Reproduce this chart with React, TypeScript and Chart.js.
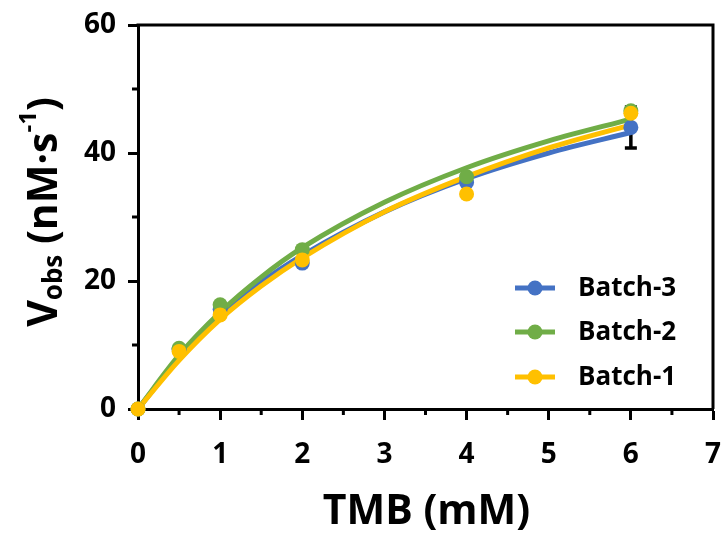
import React, { useEffect, useRef } from "react";
import { Chart, registerables } from "chart.js";

Chart.register(...registerables);

// ---- data ----
const seriesNames = ["Batch-3", "Batch-2", "Batch-1"];
const seriesColors = ["#4472C4", "#70AD47", "#FFC000"];
const pointX = [0, 0.5, 1, 2, 4, 6];
const batch3Points = [0, 9.3, 15.6, 22.8, 35.4, 44.0];
const batch2Points = [0, 9.5, 16.3, 24.9, 36.3, 46.6];
const batch1Points = [0, 9.0, 14.7, 23.3, 33.6, 46.2];
const batch3Err = [0, 0, 0, 0, 0, 3.2];
const curveX = [0, 0.5, 1, 1.5, 2, 3, 4, 5, 6];
const batch3Curve = [0, 8.0, 14.6, 19.8, 24.0, 30.8, 36.0, 40.0, 43.2];
const batch2Curve = [0, 8.4, 15.1, 20.6, 25.2, 32.3, 37.7, 41.9, 45.3];
const batch1Curve = [0, 7.6, 14.0, 19.2, 23.6, 30.8, 36.3, 40.8, 44.4];
const xMinorTicks = [0.5, 1.5, 2.5, 3.5, 4.5, 5.5, 6.5];
const yMinorTicks = [10, 30, 50];

const FONT = "'Open Sans', 'DejaVu Sans', sans-serif";

const toXY = (xs: number[], ys: number[]) => xs.map((x, i) => ({ x, y: ys[i] }));

const overlayPlugin = {
  id: "overlay",
  beforeDatasetsDraw(chart: any) {
    const ctx = chart.ctx;
    const xs = chart.scales.x;
    const ys = chart.scales.y;
    ctx.save();
    ctx.strokeStyle = "#000";
    ctx.lineWidth = 3.5;
    pointX.forEach((x, i) => {
      const e = batch3Err[i];
      if (!e) return;
      const px = xs.getPixelForValue(x);
      const lo = ys.getPixelForValue(batch3Points[i] - e);
      const hi = ys.getPixelForValue(batch3Points[i] + e);
      ctx.beginPath();
      ctx.moveTo(px, lo);
      ctx.lineTo(px, hi);
      ctx.moveTo(px - 6, lo);
      ctx.lineTo(px + 6, lo);
      ctx.moveTo(px - 6, hi);
      ctx.lineTo(px + 6, hi);
      ctx.stroke();
    });
    ctx.restore();
  },
  afterDraw(chart: any) {
    const ctx = chart.ctx;
    const xs = chart.scales.x;
    const ys = chart.scales.y;
    const a = chart.chartArea;
    ctx.save();
    ctx.strokeStyle = "#000";
    ctx.lineWidth = 3;
    ctx.beginPath();
    ctx.moveTo(a.left - 1.5, a.top);
    ctx.lineTo(a.right, a.top);
    ctx.lineTo(a.right, a.bottom);
    ctx.stroke();
    ctx.beginPath();
    xMinorTicks.forEach((v) => {
      const px = xs.getPixelForValue(v);
      ctx.moveTo(px, a.bottom);
      ctx.lineTo(px, a.bottom + 6);
    });
    yMinorTicks.forEach((v) => {
      const py = ys.getPixelForValue(v);
      ctx.moveTo(a.left, py);
      ctx.lineTo(a.left - 6, py);
    });
    ctx.stroke();

    // x title
    ctx.fillStyle = "#000";
    ctx.font = `bold 41px ${FONT}`;
    ctx.textAlign = "center";
    ctx.textBaseline = "alphabetic";
    ctx.fillText("TMB (mM)", (a.left + a.right) / 2 + 1, 524);

    // y title
    const parts = [
      { t: "V", f: 41, dy: 0 },
      { t: "obs", f: 26, dy: 5 },
      { t: " (nM\u00B7s", f: 41, dy: 0 },
      { t: "-1", f: 24, dy: -21 },
      { t: ")", f: 41, dy: 0 },
    ];
    let total = 0;
    const widths = parts.map((p) => {
      ctx.font = `bold ${p.f}px ${FONT}`;
      const w = ctx.measureText(p.t).width;
      total += w;
      return w;
    });
    const cy = 212;
    ctx.translate(57, cy + total / 2);
    ctx.rotate(-Math.PI / 2);
    ctx.textAlign = "left";
    let cx = 0;
    parts.forEach((p, i) => {
      ctx.font = `bold ${p.f}px ${FONT}`;
      ctx.fillText(p.t, cx, p.dy);
      cx += widths[i];
    });
    ctx.restore();

    // legend
    ctx.save();
    const rows = [288, 332, 377];
    seriesNames.forEach((name, i) => {
      const y = rows[i];
      ctx.strokeStyle = seriesColors[i];
      ctx.lineWidth = 5;
      ctx.beginPath();
      ctx.moveTo(515, y);
      ctx.lineTo(555, y);
      ctx.stroke();
      ctx.fillStyle = seriesColors[i];
      ctx.beginPath();
      ctx.arc(535, y, 7.5, 0, Math.PI * 2);
      ctx.fill();
      ctx.fillStyle = "#000";
      ctx.font = `bold 26px ${FONT}`;
      ctx.textAlign = "left";
      ctx.textBaseline = "middle";
      ctx.fillText(name, 578, y + 1);
    });
    ctx.restore();
  },
};

export default function App() {
  const ref = useRef<HTMLCanvasElement | null>(null);
  useEffect(() => {
    document.body.style.margin = "0";
    if (!ref.current) return;
    const curves = [batch3Curve, batch2Curve, batch1Curve];
    const pts = [batch3Points, batch2Points, batch1Points];
    const datasets: any[] = [];
    [2, 1, 0].forEach((i, k) => {
      datasets.push({
        label: seriesNames[i] + " pts",
        data: toXY(pointX, pts[i]),
        showLine: false,
        pointRadius: 7.5,
        pointBackgroundColor: seriesColors[i],
        pointBorderColor: seriesColors[i],
        pointBorderWidth: 0,
        clip: false,
        order: k,
      });
    });
    [2, 1, 0].forEach((i, k) => {
      datasets.push({
        label: seriesNames[i],
        data: toXY(curveX, curves[i]),
        showLine: true,
        borderColor: seriesColors[i],
        borderWidth: 5,
        pointRadius: 0,
        cubicInterpolationMode: "monotone",
        fill: false,
        clip: false,
        order: 3 + k,
      });
    });
    const chart = new Chart(ref.current, {
      type: "scatter",
      data: { datasets },
      options: {
        animation: false,
        responsive: false,
        maintainAspectRatio: false,
        layout: { autoPadding: false, padding: { left: 0, right: 13, top: 25, bottom: 0 } },
        plugins: { legend: { display: false }, tooltip: { enabled: false } },
        scales: {
          x: {
            type: "linear",
            min: 0,
            max: 7,
            afterFit: (s: any) => {
              s.height = 125;
              s.paddingLeft = 0;
              s.paddingRight = 0;
            },
            ticks: {
              stepSize: 1,
              color: "#000",
              font: { family: FONT, size: 28, weight: "bold" },
              padding: 18,
              maxRotation: 0,
            },
            grid: {
              drawOnChartArea: false,
              drawTicks: true,
              tickLength: 11,
              tickWidth: 3,
              tickColor: "#000",
            },
            border: { display: true, color: "#000", width: 3 },
          },
          y: {
            type: "linear",
            min: 0,
            max: 60,
            afterFit: (s: any) => {
              s.width = 138;
              s.paddingTop = 0;
              s.paddingBottom = 0;
            },
            ticks: {
              stepSize: 20,
              color: "#000",
              font: { family: FONT, size: 28, weight: "bold" },
              padding: 12,
            },
            grid: {
              drawOnChartArea: false,
              drawTicks: true,
              tickLength: 10,
              tickWidth: 3,
              tickColor: "#000",
            },
            border: { display: true, color: "#000", width: 3 },
          },
        },
      },
      plugins: [overlayPlugin],
    });
    return () => chart.destroy();
  }, []);
  return <canvas ref={ref} width={726} height={534} style={{ display: "block" }} />;
}
